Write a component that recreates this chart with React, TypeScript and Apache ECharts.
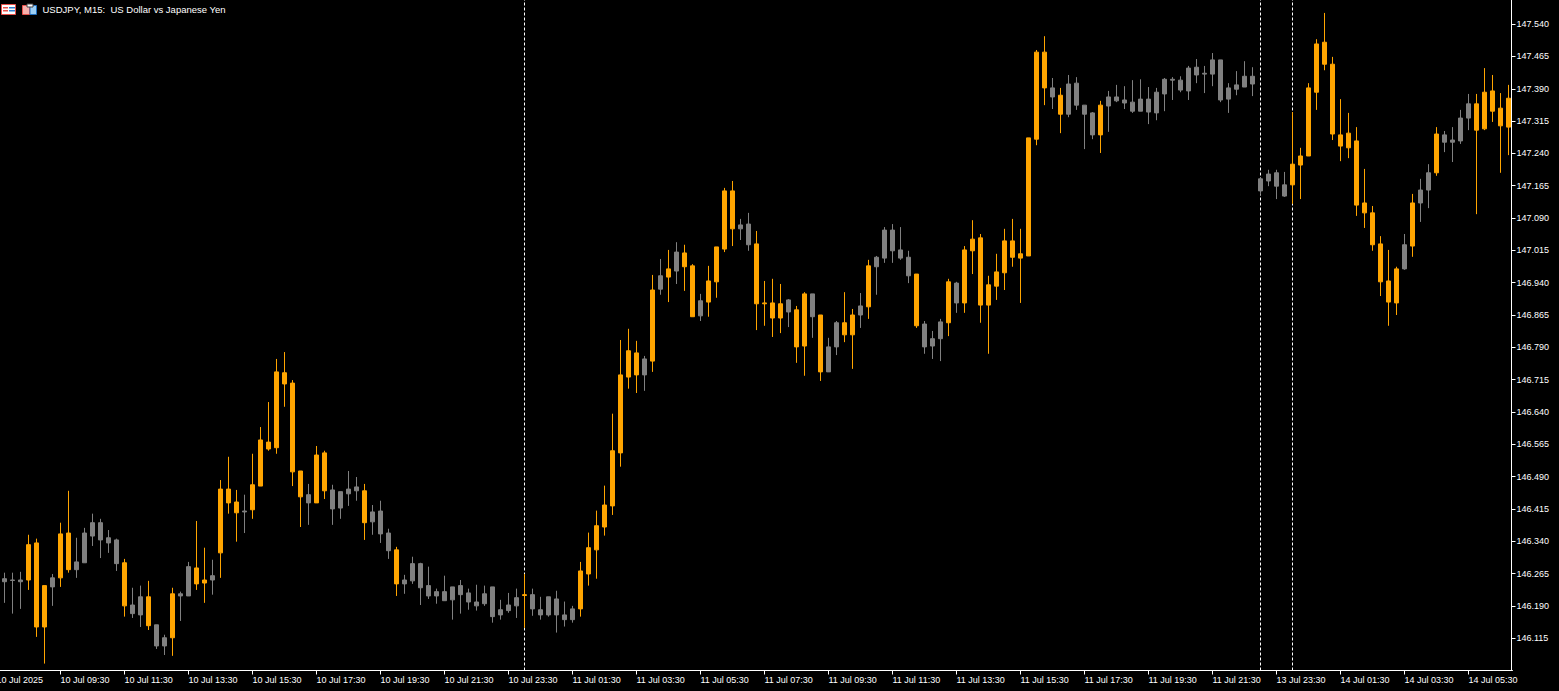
import React, { useEffect, useRef } from "react";
import * as echarts from "echarts";

const BAND_COUNT_TICK_STEP = 8;
const title = "USDJPY, M15:  US Dollar vs Japanese Yen";

const tickLabels = [
  "10 Jul 2025", "10 Jul 09:30", "10 Jul 11:30", "10 Jul 13:30", "10 Jul 15:30", "10 Jul 17:30", "10 Jul 19:30", "10 Jul 21:30",
  "10 Jul 23:30", "11 Jul 01:30", "11 Jul 03:30", "11 Jul 05:30", "11 Jul 07:30", "11 Jul 09:30", "11 Jul 11:30", "11 Jul 13:30",
  "11 Jul 15:30", "11 Jul 17:30", "11 Jul 19:30", "11 Jul 21:30", "13 Jul 23:30", "14 Jul 01:30", "14 Jul 03:30", "14 Jul 05:30",
];

const priceTicks = [
  146.115, 146.19, 146.265, 146.34, 146.415, 146.49, 146.565, 146.64, 146.715, 146.79,
  146.865, 146.94, 147.015, 147.09, 147.165, 147.24, 147.315, 147.39, 147.465, 147.54,
];

// Session separators, as candle positions
const separators = [65, 157, 161];

const opens = [
  146.253,146.250,146.250,146.250,146.141,146.141,146.255,146.255,146.274,146.292,
  146.359,146.383,146.383,146.348,146.343,146.190,146.192,146.211,146.144,146.146,
  146.116,146.116,146.218,146.281,146.241,146.243,146.260,146.313,146.429,146.406,
  146.410,146.413,146.468,146.554,146.557,146.705,146.501,146.443,146.448,146.429,
  146.457,146.459,146.455,146.461,146.466,146.383,146.408,146.410,146.359,146.241,
  146.250,146.288,146.288,146.237,146.223,146.223,146.234,146.237,146.220,146.199,
  146.218,146.234,146.181,146.192,146.209,146.214,146.216,146.181,146.211,146.206,
  146.169,146.183,146.183,146.264,146.320,146.373,146.422,146.545,146.721,146.726,
  146.763,146.758,146.956,146.953,147.011,146.977,146.861,146.898,146.895,146.942,
  147.018,147.065,147.074,147.076,146.891,146.891,146.858,146.858,146.900,146.791,
  146.793,146.914,146.733,146.791,146.847,146.819,146.819,146.886,146.884,146.999,
  147.062,147.062,147.016,146.999,146.840,146.844,146.810,146.849,146.847,146.939,
  146.893,147.014,146.888,146.888,146.932,146.963,146.999,146.997,147.002,147.273,
  147.392,147.392,147.331,147.401,147.403,147.352,147.334,147.283,147.371,147.371,
  147.364,147.359,147.366,147.366,147.382,147.412,147.412,147.410,147.438,147.440,
  147.426,147.457,147.457,147.392,147.399,147.419,147.419,147.181,147.192,147.195,
  147.167,147.167,147.213,147.234,147.382,147.447,147.285,147.257,147.253,147.120,
  147.102,147.028,146.942,146.895,146.893,147.028,147.025,147.155,147.195,147.195,
  147.283,147.271,147.322,147.355,147.294,147.297,147.338,147.304,147.301,
];

const closes = [
  146.246,146.249,146.246,146.332,146.336,146.237,146.234,146.357,146.359,146.274,
  146.290,146.352,146.343,146.336,146.288,146.290,146.172,146.169,146.211,146.097,
  146.097,146.218,146.213,146.213,146.278,146.250,146.250,146.461,146.461,146.431,
  146.408,146.471,146.575,146.570,146.733,146.731,146.707,146.503,146.429,146.540,
  146.545,146.415,146.417,146.450,146.457,146.457,146.385,146.357,146.318,146.320,
  146.241,146.248,146.232,146.213,146.213,146.202,146.204,146.216,146.199,146.190,
  146.195,146.165,146.169,146.179,146.190,146.216,146.183,146.169,146.169,146.169,
  146.158,146.158,146.271,146.325,146.376,146.424,146.550,146.726,146.782,146.777,
  146.726,146.923,146.925,146.972,146.967,147.009,146.979,146.863,146.944,147.023,
  147.153,147.153,147.065,147.028,147.030,146.893,146.893,146.891,146.872,146.877,
  146.914,146.861,146.865,146.733,146.791,146.847,146.865,146.865,146.979,146.977,
  146.997,147.014,146.997,146.956,146.960,146.791,146.793,146.810,146.942,146.893,
  147.016,147.041,147.044,146.935,146.965,147.037,147.037,147.007,147.276,147.475,
  147.475,147.371,147.375,147.331,147.352,147.331,147.283,147.352,147.350,147.362,
  147.357,147.338,147.338,147.336,147.334,147.378,147.410,147.387,147.385,147.422,
  147.424,147.424,147.364,147.366,147.389,147.394,147.401,147.153,147.176,147.164,
  147.141,147.215,147.234,147.392,147.494,147.498,147.447,147.283,147.287,147.269,
  147.125,147.102,147.030,146.944,146.972,146.972,147.125,147.125,147.155,147.285,
  147.266,147.266,147.269,147.322,147.355,147.382,147.385,147.345,147.368,
];

const lows = [
  146.197,146.172,146.183,146.227,146.118,146.056,146.190,146.234,146.267,146.255,
  146.290,146.329,146.301,146.313,146.271,146.165,146.162,146.141,146.134,146.090,
  146.076,146.074,146.155,146.213,146.227,146.197,146.216,146.255,146.404,146.339,
  146.359,146.392,146.468,146.550,146.543,146.652,146.468,146.373,146.378,146.429,
  146.438,146.378,146.392,146.422,146.434,146.343,146.355,146.336,146.299,146.213,
  146.218,146.241,146.192,146.206,146.195,146.202,146.158,146.172,146.181,146.179,
  146.190,146.151,146.158,146.174,146.162,146.139,146.167,146.158,146.165,146.128,
  146.142,146.151,146.165,146.237,146.253,146.353,146.401,146.513,146.694,146.684,
  146.689,146.733,146.912,146.895,146.937,146.921,146.861,146.851,146.861,146.905,
  147.011,147.025,147.039,147.014,146.830,146.840,146.814,146.823,146.837,146.754,
  146.724,146.812,146.712,146.733,146.772,146.802,146.740,146.835,146.856,146.912,
  146.986,146.986,146.993,146.939,146.835,146.775,146.763,146.758,146.816,146.870,
  146.870,146.960,146.847,146.775,146.900,146.923,146.977,146.893,147.002,147.259,
  147.352,147.343,147.287,147.324,147.341,147.250,147.273,147.241,147.290,147.359,
  147.343,147.334,147.338,147.308,147.317,147.338,147.364,147.382,147.364,147.403,
  147.380,147.396,147.359,147.334,147.375,147.394,147.373,147.144,147.164,147.134,
  147.139,147.123,147.134,147.234,147.341,147.433,147.271,147.222,147.229,147.095,
  147.067,147.014,146.909,146.840,146.865,146.970,147.000,147.081,147.113,147.188,
  147.243,147.220,147.262,147.294,147.099,147.294,147.313,147.195,147.236,
];

const highs = [
  146.267,146.267,146.269,146.355,146.346,146.237,146.264,146.383,146.457,146.348,
  146.371,146.404,146.392,146.366,146.346,146.299,146.232,146.237,146.248,146.146,
  146.123,146.232,146.223,146.292,146.387,146.325,146.297,146.482,146.536,146.459,
  146.448,146.543,146.605,146.663,146.763,146.779,146.714,146.503,146.473,146.561,
  146.550,146.471,146.455,146.503,146.489,146.473,146.424,146.434,146.369,146.327,
  146.262,146.304,146.290,146.281,146.230,146.260,146.234,146.250,146.230,146.239,
  146.237,146.234,146.204,146.220,146.230,146.264,146.230,146.211,146.211,146.225,
  146.200,146.190,146.292,146.360,146.411,146.469,146.636,146.807,146.833,146.805,
  146.770,146.958,146.995,147.016,147.034,147.028,146.983,146.914,146.979,147.023,
  147.160,147.176,147.088,147.102,147.060,146.944,146.949,146.937,146.902,146.886,
  146.918,146.914,146.865,146.812,146.851,146.918,146.879,146.916,146.993,147.002,
  147.069,147.076,147.069,147.014,146.960,146.851,146.828,146.856,146.949,146.942,
  147.025,147.085,147.053,146.956,147.007,147.065,147.088,147.065,147.276,147.480,
  147.512,147.415,147.392,147.422,147.417,147.352,147.336,147.362,147.385,147.399,
  147.396,147.410,147.412,147.394,147.392,147.415,147.417,147.419,147.443,147.459,
  147.443,147.473,147.457,147.403,147.431,147.454,147.440,147.183,147.202,147.202,
  147.197,147.336,147.253,147.403,147.505,147.566,147.464,147.366,147.334,147.301,
  147.204,147.118,147.048,147.016,146.977,147.053,147.146,147.181,147.215,147.301,
  147.292,147.301,147.341,147.378,147.378,147.438,147.422,147.380,147.399,
];

const bull = "#FFA500";
const bear = "#808080";
const ink = "#FFFFFF";
const axisFont = "Liberation Sans";

const categories = ["", ...opens.map(() => "")].map((_, i) =>
  i % BAND_COUNT_TICK_STEP === 0 ? tickLabels[i / BAND_COUNT_TICK_STEP] : ""
);
const candles = [
  ["-", "-", "-", "-"],
  ...opens.map((o, i) => [o, closes[i], lows[i], highs[i]]),
];
const isTick = (i: number) => i % BAND_COUNT_TICK_STEP === 0;

// The chart's div starts 8px left of the page, so that the first, cut-off axis label hangs off the edge.
const bleed = 8;

export default function App() {
  const ref = useRef<HTMLDivElement>(null);
  useEffect(() => {
    document.body.style.margin = "0";
    document.body.style.background = "#000";
    document.body.style.overflow = "hidden";
    const chart = echarts.init(ref.current!, null, { renderer: "svg" });
    chart.setOption({
      animation: false,
      backgroundColor: "#000000",
      grid: { left: 0.5, width: 1520, top: 0, height: 670.5, containLabel: false },
      xAxis: {
        type: "category",
        data: categories,
        boundaryGap: true,
        axisLine: { lineStyle: { color: ink, width: 1 } },
        axisTick: { show: true, length: 4, interval: isTick, alignWithLabel: true, lineStyle: { color: ink } },
        axisLabel: {
          interval: isTick, color: ink, fontFamily: axisFont, fontSize: 9, align: "left", margin: 5,
          hideOverlap: false,
        },
        splitLine: { show: false },
      },
      yAxis: {
        type: "value",
        position: "right",
        offset: -1,
        min: 146.04,
        max: 147.596,
        axisLine: { show: true, lineStyle: { color: ink, width: 1 } },
        axisTick: { show: true, length: 4, customValues: priceTicks, lineStyle: { color: ink } },
        axisLabel: {
          customValues: priceTicks, color: ink, fontFamily: axisFont, fontSize: 9, margin: 5,
          formatter: (v: number) => v.toFixed(3),
        },
        splitLine: { show: false },
      },
      series: [
        {
          type: "candlestick",
          data: candles,
          barWidth: 4,
          itemStyle: { color: bull, color0: bear, borderColor: bull, borderColor0: bear, borderWidth: 1 },
          markLine: {
            silent: true,
            z: 1,
            symbol: "none",
            label: { show: false },
            lineStyle: { color: ink, type: [3, 2], width: 1 },
            data: separators.map((s) => ({ xAxis: s + 1 })),
          },
        },
      ],
      graphic: [
        {
          type: "group",
          x: bleed,
          y: 0,
          children: [
            { type: "rect", shape: { x: 1.5, y: 4.5, width: 14, height: 10 }, style: { fill: "#fff", stroke: "#e8504a", lineWidth: 1 } },
            { type: "rect", shape: { x: 3, y: 7, width: 5, height: 1.5 }, style: { fill: "#e8504a" } },
            { type: "rect", shape: { x: 3, y: 10, width: 5, height: 1.5 }, style: { fill: "#e8504a" } },
            { type: "rect", shape: { x: 9, y: 7, width: 6, height: 1.5 }, style: { fill: "#2f7fd0" } },
            { type: "rect", shape: { x: 9, y: 10, width: 6, height: 1.5 }, style: { fill: "#2f7fd0" } },
            { type: "rect", shape: { x: 22.5, y: 5.5, width: 7, height: 9 }, style: { fill: "#f7b0ac", stroke: "#e8504a", lineWidth: 1 } },
            { type: "rect", shape: { x: 30, y: 5.5, width: 6.5, height: 9 }, style: { fill: "#9ccff5", stroke: "#1f6fc0", lineWidth: 1 } },
            { type: "rect", shape: { x: 27, y: 4, width: 6, height: 3 }, style: { fill: "#ffffff", stroke: "#444444", lineWidth: 1 } },
            { type: "text", x: 42.5, y: 9.5, style: { text: title, fill: ink, font: `9.5px "${axisFont}"`, textVerticalAlign: "middle" } },
          ],
        },
      ],
    });
    return () => chart.dispose();
  }, []);
  return <div ref={ref} style={{ width: 1559 + bleed, height: 691, marginLeft: -bleed }} />;
}
